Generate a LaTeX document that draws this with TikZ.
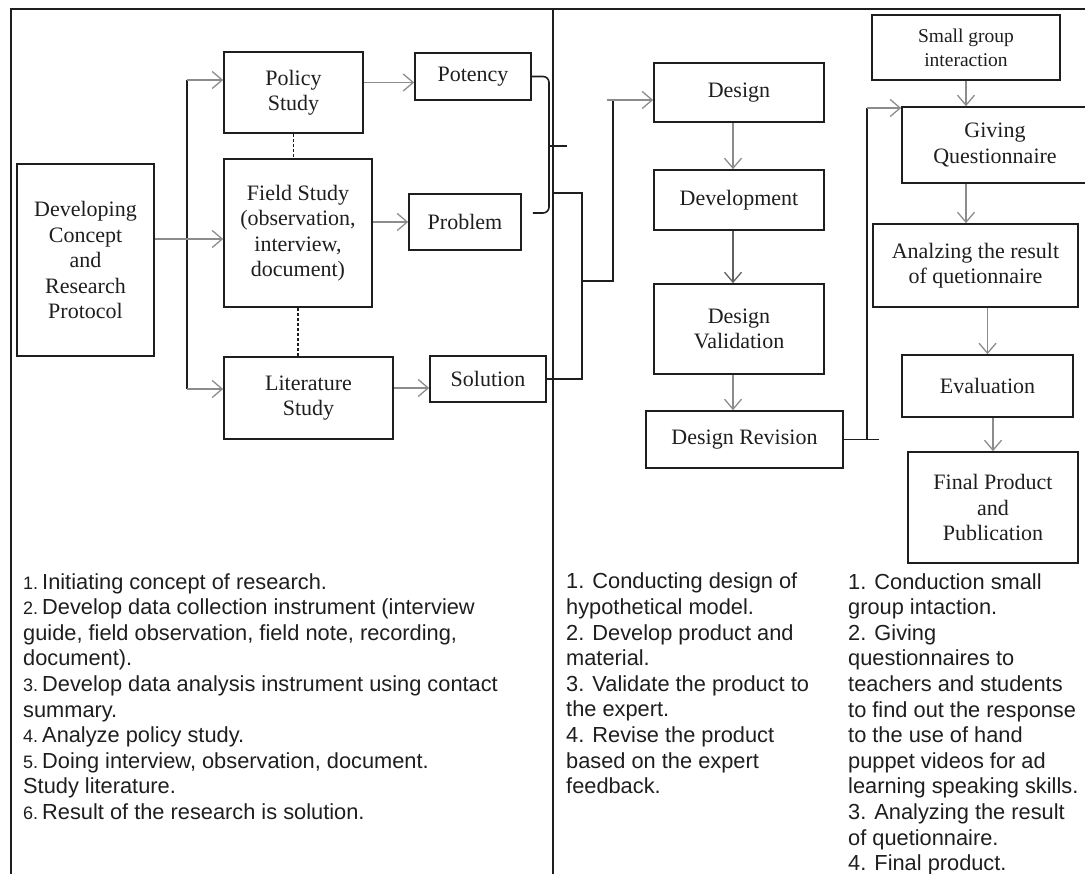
\documentclass[tikz,border=0pt]{standalone}
\usepackage{fontspec}
\setmainfont{Liberation Serif}
\newfontfamily\notefont{Liberation Sans}
\usetikzlibrary{arrows.meta}
\definecolor{ink}{HTML}{1E1E1E}
\definecolor{arrowgray}{HTML}{8C8C8C}
\newcommand{\lnum}[1]{{\fontsize{18}{18}\selectfont #1.}\hspace{4pt}}

\begin{document}
\begin{tikzpicture}[x=1pt, y=-1pt,
		main/.style={shape=rectangle, draw=ink, line width=1.6pt, inner sep=0pt, align=center, text=ink, font=\fontsize{22}{25.5}\selectfont},
		flow/.style={draw=arrowgray, line width=1.3pt, -{Straight Barb[length=10pt, width=17pt]}},
		link/.style={draw=ink, line width=1.6pt},
		note/.style={anchor=north west, inner sep=0pt, align=left, text=ink, font=\notefont\fontsize{21.8}{25.6}\selectfont},
]

\useasboundingbox (0,0) rectangle (1085,874);

\draw[link] (10,9) -- (1085,9);
\draw[link] (11,9) -- (11,874);
\draw[link] (553,9) -- (553,874);

\node[main, minimum width=137pt, minimum height=192pt] (dev) at (85.5,260) {Developing\\Concept\\and\\Research\\Protocol};
\node[main, minimum width=139pt, minimum height=81pt] (policy) at (293.5,92.5) {Policy\\Study};
\node[main, minimum width=148pt, minimum height=148pt] (field) at (298,233) {Field Study\\(observation,\\interview,\\document)};
\node[main, minimum width=169pt, minimum height=82pt] (lit) at (308.5,398) {Literature\\Study};

\node[main, minimum width=116pt, minimum height=47pt] (potency) at (473,76.5) {Potency};
\node[main, minimum width=112pt, minimum height=56pt] (problem) at (465,222) {Problem};
\node[main, minimum width=116pt, minimum height=46pt] (solution) at (488,379) {Solution};

\node[main, minimum width=170pt, minimum height=59pt] (design) at (739,92.5) {Design};
\node[main, minimum width=170pt, minimum height=60pt] (devel) at (739,200) {Development};
\node[main, minimum width=170pt, minimum height=90pt] (valid) at (739,329) {Design\\Validation};
\node[main, minimum width=197pt, minimum height=57pt] (revis) at (744.5,439.5) {Design Revision};

\node[main, minimum width=188pt, minimum height=65pt, font=\fontsize{19.5}{24}\selectfont] (small) at (966,47.5) {Small group\\interaction};
\node[main, minimum width=186pt, minimum height=76pt] (giving) at (995,145) {Giving\\Questionnaire};
\node[main, minimum width=205pt, minimum height=83pt] (analz) at (975.5,265.5) {Analzing the result\\of quetionnaire};
\node[main, minimum width=171pt, minimum height=62pt] (eval) at (987.5,386) {Evaluation};
\node[main, minimum width=170pt, minimum height=111pt] (final) at (993,507.5) {Final Product\\and\\Publication};

\coordinate (t1) at (187,80);
\coordinate (t2) at (187,239);
\coordinate (t3) at (187,389);
\coordinate (brace) at (549,146);
\coordinate (m0) at (553,193);
\coordinate (m1) at (582,193);
\coordinate (m2) at (582,281);
\coordinate (m3) at (613,100);
\coordinate (r2) at (867,108);

\draw[link] (t1) -- (t3);
\draw[flow] (t1) -- (t1 -| policy.west);
\draw[flow] (dev.east |- t2) -- (t2 -| field.west);
\draw[flow] (t3) -- (t3 -| lit.west);

\draw[link, line width=1.2pt, densely dashed] (policy.south) -- (policy.south |- field.north);
\draw[link, line width=1.2pt, densely dashed] (field.south) -- (field.south |- lit.north);

\draw[flow] ([yshift=-6pt]potency.west -| policy.east) -- ([yshift=-6pt]potency.west);
\draw[flow] (problem.west -| field.east) -- (problem.west);
\draw[flow] ([yshift=-9pt]solution.west -| lit.east) -- ([yshift=-9pt]solution.west);

\draw[link, rounded corners=6pt] (potency.east) -| (brace) |- ([xshift=11pt, yshift=9pt]problem.east);
\draw[link] (brace) -- ++(18,0);
\draw[link] (m0) -- (m1) |- (solution.east);
\draw[link] (m2) -| (m3);
\draw[flow] ([xshift=-6pt]m3) -- (m3 -| design.west);

\foreach \a/\b in {design/devel, valid/revis}
	\draw[flow] ([xshift=-6pt]\a.south) -- ([xshift=-6pt]\a.south |- \b.north);
\draw[flow, draw=ink!70] ([xshift=-6pt]devel.south) -- ([xshift=-6pt]devel.south |- valid.north);

\draw[link] (revis.east) -- ++(35,0);
\draw[link] (revis.east -| r2) -- (r2);
\draw[flow] (r2) -- (r2 -| giving.west);

\draw[flow] (small.south) -- (small.south |- giving.north);
\draw[flow] (small.south |- giving.south) -- (small.south |- analz.north);
\draw[flow] (eval.north |- analz.south) -- (eval.north);
\draw[flow] (final.north |- eval.south) -- (final.north);

\node[note] (notea) at (23,573) {\lnum{1}Initiating concept of research.\\
\lnum{2}Develop data collection instrument (interview\\
guide, field observation, field note, recording,\\
document).\\
\lnum{3}Develop data analysis instrument using contact\\
summary.\\
\lnum{4}Analyze policy study.\\
\lnum{5}Doing interview, observation, document.\\
Study literature.\\
\lnum{6}Result of the research is solution.};

\node[note] (noteb) at (566,573) {1. Conducting design of\\
hypothetical model.\\
2. Develop product and\\
material.\\
3. Validate the product to\\
the expert.\\
4. Revise the product\\
based on the expert\\
feedback.};

\node[note] (notec) at (848,573) {1. Conduction small\\
group intaction.\\
2. Giving\\
questionnaires to\\
teachers and students\\
to find out the response\\
to the use of hand\\
puppet videos for ad\\
learning speaking skills.\\
3. Analyzing the result\\
of quetionnaire.\\
4. Final product.};

\end{tikzpicture}
\end{document}
